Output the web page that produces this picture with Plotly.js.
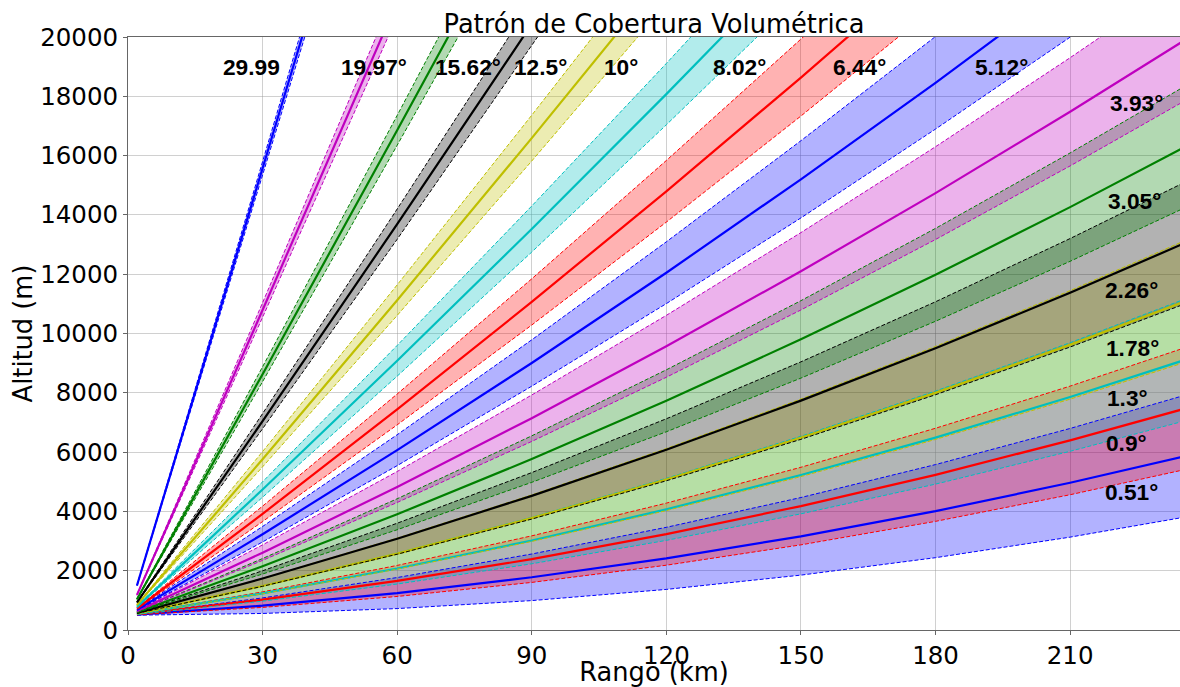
<!DOCTYPE html>
<html>
<head>
<meta charset="utf-8">
<script src="https://cdn.plot.ly/plotly-3.0.1.min.js"></script>
<style>html,body{margin:0;padding:0;background:#fff;}#chart{width:1180px;height:687px;}</style>
</head>
<body>
<div id="chart"></div>
<script>
// Slant range samples (km)
const RANGE_KM = [2, 30, 60, 90, 120, 150, 180, 210, 235];

// Elevation labels as printed on the chart
const ELEVATION_LABELS = ['0.51°','0.9°','1.3°','1.78°','2.26°','3.05°','3.93°','5.12°','6.44°','8.02°','10°','12.5°','15.62°','19.97°','29.99'];

// Beam heights (m) at RANGE_KM samples (lines leaving the top are cut short)
const LOWER_EDGE_M = [
  [501, 558, 722, 992, 1369, 1851, 2439, 3132, 3792],
  [514, 762, 1131, 1605, 2185, 2872, 3664, 4562, 5391],
  [528, 972, 1550, 2233, 3023, 3918, 4920, 6027, 7031],
  [545, 1223, 2052, 2987, 4028, 5174, 6427, 7786, 8998],
  [562, 1474, 2555, 3741, 5032, 6430, 7934, 9543, 10965],
  [589, 1888, 3381, 4980, 6685, 8495, 10412, 12434, 14200],
  [620, 2348, 4301, 6360, 8524, 10794, 13170, 15651, 17799],
  [661, 2969, 5543, 8223, 11008, 13898, 16894, 19994, 22659],
  [707, 3657, 6919, 10286, 13757, 17334, 21015],
  [762, 4478, 8561, 12747, 17038, 21433],
  [830, 5503, 10609, 15818, 21130],
  [916, 6788, 13177, 19668, 26260],
  [1022, 8375, 16348, 24420],
  [1167, 10547, 20687],
  [1485, 15308, 30197]
];
const CENTER_M = [
  [518, 820, 1246, 1778, 2416, 3160, 4009, 4965, 5842],
  [532, 1024, 1654, 2390, 3232, 4180, 5234, 6394, 7441],
  [546, 1234, 2073, 3018, 4070, 5227, 6490, 7859, 9080],
  [562, 1485, 2575, 3772, 5074, 6482, 7997, 9616, 11047],
  [579, 1736, 3078, 4525, 6078, 7737, 9502, 11373, 13012],
  [607, 2149, 3904, 5764, 7730, 9802, 11979, 14262, 16245],
  [637, 2609, 4823, 7143, 9568, 12099, 14735, 17477, 19842],
  [679, 3230, 6065, 9005, 12050, 15200, 18456, 21816],
  [725, 3917, 7439, 11065, 14796, 18632, 22572],
  [779, 4738, 9079, 13524, 18073, 22727],
  [848, 5761, 11124, 16591, 22160],
  [933, 7044, 13688, 20434],
  [1039, 8627, 16852, 25175],
  [1183, 10793, 21179],
  [1500, 15535, 30650]
];
const UPPER_EDGE_M = [
  [536, 1082, 1769, 2563, 3463, 4468, 5579, 6797, 7892],
  [549, 1286, 2178, 3175, 4279, 5488, 6804, 8225, 9490],
  [563, 1495, 2596, 3803, 5116, 6535, 8059, 9690, 11129],
  [580, 1746, 3099, 4556, 6120, 7790, 9565, 11446, 13094],
  [597, 1997, 3601, 5309, 7124, 9044, 11070, 13202, 15059],
  [624, 2410, 4426, 6548, 8775, 11107, 13545, 16089, 18289],
  [655, 2870, 5345, 7926, 10612, 13403, 16299, 19301, 21883],
  [696, 3491, 6586, 9786, 13092, 16502, 20017],
  [742, 4177, 7959, 11844, 15835, 19929, 24129],
  [797, 4997, 9597, 14300, 19108, 24019],
  [865, 6018, 11639, 17362, 23188],
  [950, 7299, 14198, 21198],
  [1056, 8878, 17355, 25929],
  [1200, 11038, 21669],
  [1515, 15761, 31101]
];

// Label anchor positions (km, m)
const LABEL_X_KM = [223.6, 222.5, 222.7, 224.0, 223.7, 224.4, 224.8, 194.8, 163.0, 136.2, 109.9, 92.0, 75.8, 54.8, 27.6];
const LABEL_Y_M  = [4663, 6313, 7828, 9512, 11464, 14461, 17761, 19000, 19000, 19000, 19000, 19000, 19000, 19000, 19000];

const X_TICKS = [0, 30, 60, 90, 120, 150, 180, 210];
const Y_TICKS = [0, 2000, 4000, 6000, 8000, 10000, 12000, 14000, 16000, 18000, 20000];

// Styles
const COLOR_CYCLE = [[0,0,255],[255,0,0],[0,191,191],[191,191,0],[0,0,0],[0,128,0],[191,0,191]];
const rgb = (c) => 'rgb(' + c.join(',') + ')';
const rgba = (c, a) => 'rgba(' + c.join(',') + ',' + a + ')';

const traces = [];
// Fills first (below all lines, like matplotlib patches)
ELEVATION_LABELS.forEach((lab, i) => {
  const c = COLOR_CYCLE[i % COLOR_CYCLE.length];
  traces.push({x: RANGE_KM.slice(0, LOWER_EDGE_M[i].length), y: LOWER_EDGE_M[i], mode: 'lines',
    line: {width: 0, color: rgba(c, 0)}, hoverinfo: 'skip', showlegend: false});
  traces.push({x: RANGE_KM.slice(0, UPPER_EDGE_M[i].length), y: UPPER_EDGE_M[i], mode: 'lines',
    line: {width: 0, color: rgba(c, 0)}, fill: 'tonexty', fillcolor: rgba(c, 0.3), hoverinfo: 'skip', showlegend: false});
});
// Lines
ELEVATION_LABELS.forEach((lab, i) => {
  const c = COLOR_CYCLE[i % COLOR_CYCLE.length];
  traces.push({x: RANGE_KM.slice(0, CENTER_M[i].length), y: CENTER_M[i], mode: 'lines',
    line: {width: 2.2, color: rgb(c)}, name: lab, showlegend: false});
  traces.push({x: RANGE_KM.slice(0, LOWER_EDGE_M[i].length), y: LOWER_EDGE_M[i], mode: 'lines',
    line: {width: 1, color: rgb(c), dash: '4px,2px'}, showlegend: false, hoverinfo: 'skip'});
  traces.push({x: RANGE_KM.slice(0, UPPER_EDGE_M[i].length), y: UPPER_EDGE_M[i], mode: 'lines',
    line: {width: 1, color: rgb(c), dash: '4px,2px'}, showlegend: false, hoverinfo: 'skip'});
});

const annotations = ELEVATION_LABELS.map((lab, i) => ({
  x: LABEL_X_KM[i], y: LABEL_Y_M[i], xref: 'x', yref: 'y', text: lab, showarrow: false,
  xanchor: 'center', yanchor: 'middle',
  font: {family: 'Liberation Sans, Arial, sans-serif', size: 22.7, color: '#000', weight: 'bold'}
}));

const tickFont = {family: 'DejaVu Sans', size: 24.5, color: '#000'};
const titleFont = {family: 'DejaVu Sans', size: 25.7, color: '#000'};
const GRID = 'rgba(150,150,150,0.45)';

const layout = {
  width: 1180, height: 687,
  margin: {l: 128, r: 0, t: 37, b: 57, pad: 0},
  paper_bgcolor: '#fff', plot_bgcolor: '#fff',
  showlegend: false,
  title: {text: 'Patrón de Cobertura Volumétrica', font: titleFont,
    x: 0.5, xref: 'paper', xanchor: 'center', y: 0.965, yref: 'container', yanchor: 'middle'},
  xaxis: {range: [0, 234.5], tickvals: X_TICKS, ticktext: X_TICKS.map(String),
    showgrid: true, gridcolor: GRID, gridwidth: 1, zeroline: false,
    showline: true, linecolor: '#666', linewidth: 1, mirror: true,
    ticks: 'outside', ticklen: 4, tickcolor: '#666', tickfont: tickFont,
    title: {text: 'Rango (km)', font: titleFont}, layer: 'above traces'},
  yaxis: {range: [0, 20000], tickvals: Y_TICKS, ticktext: Y_TICKS.map(String),
    showgrid: true, gridcolor: GRID, gridwidth: 1, zeroline: false,
    showline: true, linecolor: '#666', linewidth: 1, mirror: false,
    ticks: 'outside', ticklen: 4, tickcolor: '#666', tickfont: tickFont,
    automargin: true,
    title: {text: 'Altitud (m)', font: titleFont, standoff: 0}, layer: 'above traces'},
  annotations: annotations
};

Plotly.newPlot('chart', traces, layout, {displayModeBar: false, staticPlot: true});
</script>
</body>
</html>
